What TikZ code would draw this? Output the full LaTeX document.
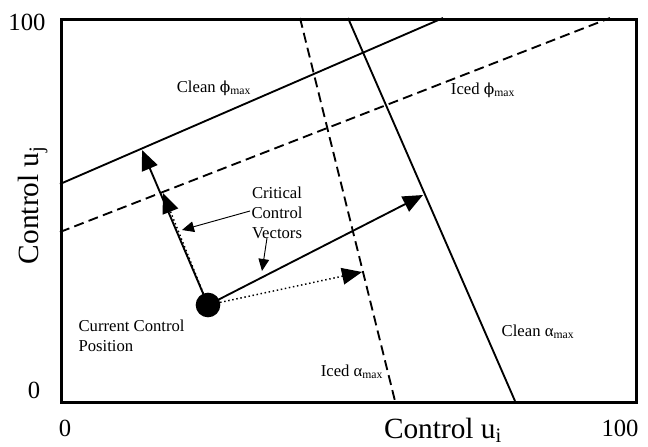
\documentclass[tikz,border=0pt]{standalone}
\usepackage{fontspec}
\setmainfont{Liberation Serif}
\newfontfamily\phifont{DejaVu Serif}
\usetikzlibrary{arrows.meta}
\tikzset{
  frame/.style={line width=2pt},
  bound/.style={line width=1.4pt},
  iced/.style={line width=1.4pt, dash pattern=on 7.5pt off 4pt},
  vecarrow/.style={line width=1.4pt, -{Triangle[length=15pt,width=12.5pt]}},
  dotarrow/.style={line width=1.1pt, dotted, -{Triangle[length=15pt,width=12.5pt]}},
  callout/.style={line width=0.7pt, -{Triangle[length=9pt,width=8pt]}},
  lbl/.style={font=\fontsize{12.5}{15}\selectfont, inner sep=1pt},
  numlbl/.style={font=\fontsize{18.5}{22}\selectfont, inner sep=1pt},
  axlbl/.style={font=\fontsize{22}{26}\selectfont, inner sep=1pt},
}
\newcommand{\subsc}[1]{\textsubscript{#1}}
\newcommand{\stphi}{{\phifont\fontsize{11.5}{14}\selectfont ϕ}}
\begin{document}
\begin{tikzpicture}[x=0.75pt,y=-0.75pt]
\useasboundingbox (0,0) rectangle (648,446);
% plot frame
\node[frame, draw, minimum width=575*0.75pt, minimum height=383*0.75pt, inner sep=0pt, anchor=north west] (box) at (60,18) {};
% boundary line end points
\coordinate (cpA) at (60,184);  \coordinate (cpB) at (443,18);
\coordinate (ipA) at (60,232);  \coordinate (ipB) at (610,18);
\coordinate (caA) at (348,18);  \coordinate (caB) at (515,401);
\coordinate (iaA) at (300,18);  \coordinate (iaB) at (395,401);
\draw[bound] (cpA) -- (cpB);
\draw[iced] (ipA) -- (ipB);
\draw[bound] (caA) -- (caB);
\draw[iced] (iaA) -- (iaB);
% current control position
\coordinate (cur) at (208,305);
\coordinate (tCP) at (142,150);
\coordinate (tIP) at (163,193);
\coordinate (tCA) at (423,195);
\coordinate (tIA) at (362,272);
\draw[dotarrow] (cur) -- (tIP);
\draw[dotarrow] (cur) -- (tIA);
\draw[vecarrow] (cur) -- (tCP);
\draw[vecarrow] (cur) -- (tCA);
\node[circle, fill=black, minimum size=18.5pt, inner sep=0pt] (dot) at (cur) {};
% labels
\node[lbl] (lcp) at (214,88) {Clean \stphi\subsc{max}};
\node[lbl] (lip) at (483,90) {Iced \stphi\subsc{max}};
\node[lbl] (lca) at (538,332) {Clean α\subsc{max}};
\node[lbl] (lia) at (352,372) {Iced α\subsc{max}};
\node[lbl, align=left, anchor=west] (lcur) at (77,336) {Current Control\\Position};
\node[lbl, align=center] (lcv) at (277,213) {Critical\\Control\\Vectors};
\coordinate (c1s) at (250,211); \coordinate (c1e) at (182,230);
\coordinate (c2s) at (267,238); \coordinate (c2e) at (262,271);
\draw[callout] (c1s) -- (c1e);
\draw[callout] (c2s) -- (c2e);
% axes labels
\node[numlbl] (y100) at (27,22) {100};
\node[numlbl] (y0) at (34,390) {0};
\node[numlbl] (x0) at (65,428) {0};
\node[numlbl] (x100) at (620,428) {100};
\node[axlbl] (xl) at (443,430) {Control u\subsc{i}};
\node[axlbl, rotate=90] (yl) at (33,205) {Control u\subsc{j}};
\end{tikzpicture}
\end{document}
